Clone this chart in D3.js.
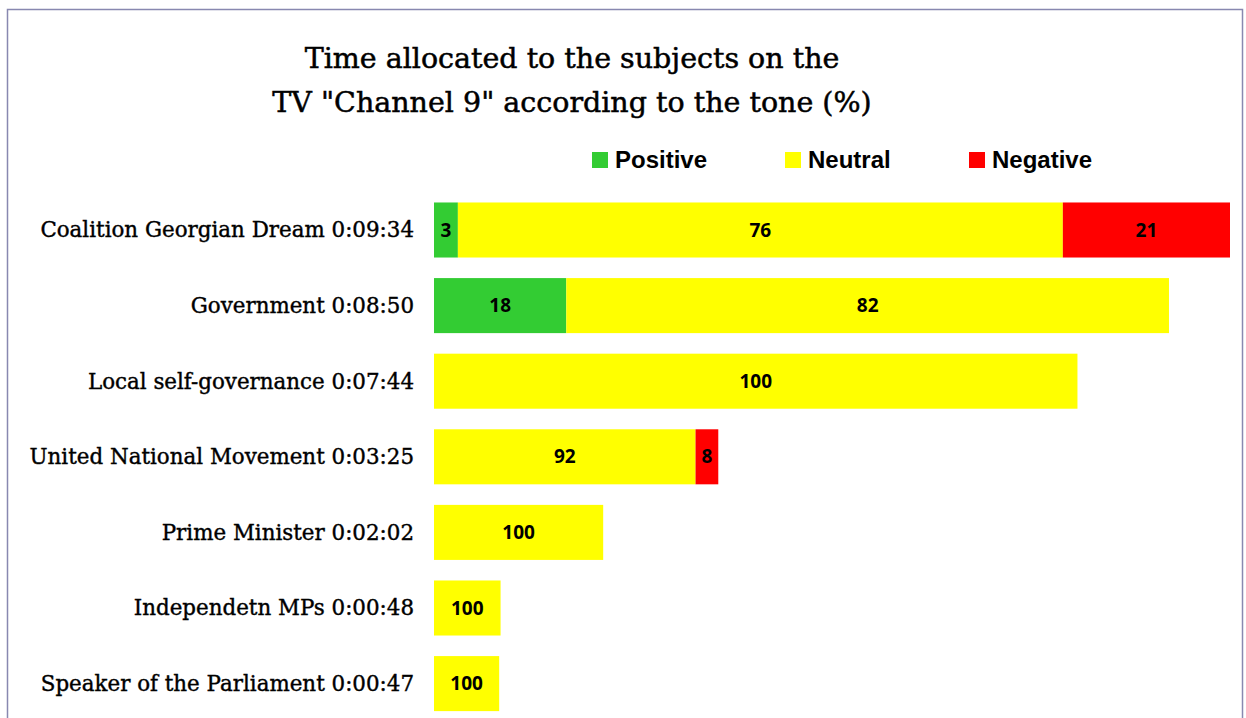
<!DOCTYPE html>
<html>
<head>
<meta charset="utf-8">
<script src="https://cdn.jsdelivr.net/npm/d3@7"></script>
<style>
body { margin: 0; background: #fff; }
</style>
</head>
<body>
<div id="view"></div>
<script>
var width = 1246, height = 718;

// subjects, time on air, tone shares (%)
var subjects = ["Coalition Georgian Dream", "Government", "Local self-governance",
	"United National Movement", "Prime Minister", "Independetn MPs", "Speaker of the Parliament"];
var times = ["0:09:34", "0:08:50", "0:07:44", "0:03:25", "0:02:02", "0:00:48", "0:00:47"];
var positive = [3, 18, 0, 0, 0, 0, 0];
var neutral = [76, 82, 100, 92, 100, 100, 100];
var negative = [21, 0, 0, 8, 0, 0, 0];
var tones = ["Positive", "Neutral", "Negative"];
var colors = ["#33cc33", "#ffff00", "#ff0000"];

function secs(t) {
	var p = t.split(":");
	return +p[0] * 3600 + +p[1] * 60 + +p[2];
}

var rows = subjects.map(function(s, i) {
	return { name: s, time: times[i], total: secs(times[i]),
		vals: [positive[i], neutral[i], negative[i]] };
});

var svg = d3.select("#view").append("svg")
	.attr("width", width)
	.attr("height", height);

// frame
svg.append("rect")
	.attr("x", 7.5).attr("y", 9.5)
	.attr("width", 1235).attr("height", 720)
	.style("fill", "none")
	.style("stroke", "#8888b0")
	.style("stroke-width", 1.5);

// title
var title = ["Time allocated to the subjects on the", "TV \"Channel 9\" according to the tone (%)"];
svg.selectAll(".title")
	.data(title).enter()
	.append("text")
	.attr("class", "title")
	.attr("x", 572)
	.attr("y", function(d, i) { return 68 + i * 44; })
	.attr("text-anchor", "middle")
	.style("font-family", "DejaVu Serif")
	.style("font-size", "28.5px")
	.style("stroke", "#000")
	.style("stroke-width", 0.5)
	.text(function(d) { return d; });

// legend
var legX = [592, 785, 969];
var leg = svg.selectAll(".leg")
	.data(tones).enter()
	.append("g")
	.attr("class", "leg")
	.attr("transform", function(d, i) { return "translate(" + legX[i] + ",152)"; });
leg.append("rect")
	.attr("width", 16).attr("height", 16)
	.style("fill", function(d, i) { return colors[i]; });
leg.append("text")
	.attr("x", 23).attr("y", 16)
	.style("font-family", "Liberation Sans, Arial")
	.style("font-weight", "bold")
	.style("font-size", "24px")
	.text(function(d) { return d; });

var x = d3.scaleLinear()
	.domain([0, secs(times[0])])
	.range([434, 1230]);

var y = d3.scaleBand()
	.domain(subjects)
	.range([192.2, 721.4])
	.paddingInner(0.272)
	.paddingOuter(0.136);

// category labels
svg.selectAll(".lab")
	.data(rows).enter()
	.append("text")
	.attr("class", "lab")
	.attr("x", 414)
	.attr("y", function(d) { return y(d.name) + y.bandwidth() / 2; })
	.attr("dy", "0.35em")
	.attr("text-anchor", "end")
	.style("font-family", "DejaVu Serif")
	.style("font-size", "21.4px")
	.style("stroke", "#000")
	.style("stroke-width", 0.4)
	.text(function(d) { return d.name + " " + d.time; });

// stacked segments
var segs = [];
rows.forEach(function(r) {
	var acc = 0;
	r.vals.forEach(function(v, k) {
		if (v > 0) {
			segs.push({ name: r.name, k: k, v: v,
				x0: r.total * acc / 100, x1: r.total * (acc + v) / 100 });
		}
		acc += v;
	});
});

svg.selectAll(".seg")
	.data(segs).enter()
	.append("rect")
	.attr("class", "seg")
	.attr("x", function(d) { return x(d.x0); })
	.attr("width", function(d) { return x(d.x1) - x(d.x0); })
	.attr("y", function(d) { return y(d.name); })
	.attr("height", y.bandwidth())
	.style("fill", function(d) { return colors[d.k]; });

svg.selectAll(".val")
	.data(segs).enter()
	.append("text")
	.attr("class", "val")
	.attr("x", function(d) { return (x(d.x0) + x(d.x1)) / 2; })
	.attr("y", function(d) { return y(d.name) + y.bandwidth() / 2; })
	.attr("dy", "0.35em")
	.attr("text-anchor", "middle")
	.style("font-family", "Open Sans, DejaVu Sans")
	.style("font-weight", "bold")
	.style("font-size", "19px")
	.text(function(d) { return d.v; });
</script>
</body>
</html>
